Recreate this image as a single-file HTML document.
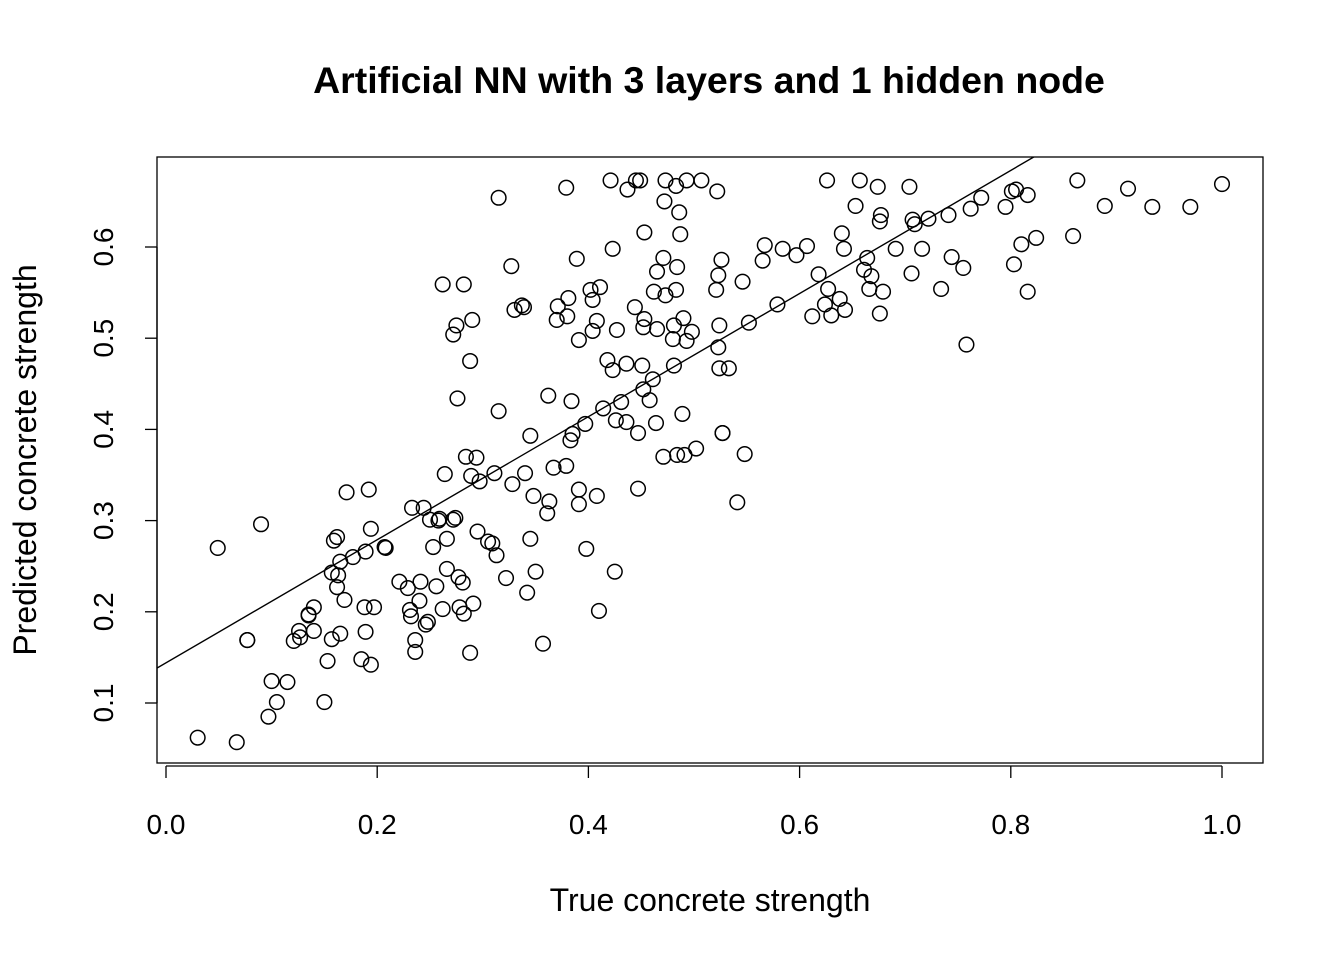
<!DOCTYPE html>
<html><head><meta charset="utf-8"><style>
html,body{margin:0;padding:0;background:#fff;}
svg text{font-family:"Liberation Sans",Arial,sans-serif;fill:#000;}
</style></head><body>
<svg id="chart" width="1344" height="960" xmlns="http://www.w3.org/2000/svg">
<rect x="0" y="0" width="1344" height="960" fill="#fff"/>
<text x="709" y="93" font-size="37.5" font-weight="bold" text-anchor="middle">Artificial NN with 3 layers and 1 hidden node</text>
<rect x="157" y="157" width="1106" height="606" fill="none" stroke="#000" stroke-width="1.3"/>
<text x="710" y="911" font-size="32" text-anchor="middle">True concrete strength</text>
<text x="0" y="0" font-size="32" text-anchor="middle" transform="translate(36,460) rotate(-90)">Predicted concrete strength</text>
<g id="axes"></g>
<defs><clipPath id="clip"><rect x="157" y="157" width="1106" height="606"/></clipPath></defs>
<g id="marks" clip-path="url(#clip)"></g>
</svg>
<script>
const xTicks = [0.0, 0.2, 0.4, 0.6, 0.8, 1.0];
const xTickLabels = ["0.0","0.2","0.4","0.6","0.8","1.0"];
const yTicks = [0.1, 0.2, 0.3, 0.4, 0.5, 0.6];
const yTickLabels = ["0.1","0.2","0.3","0.4","0.5","0.6"];
const fitIntercept = 0.144;
const fitSlope = 0.675;
const trueStrength = [
0.264,0.289,0.297,0.311,0.328,0.340,0.171,0.192,0.090,0.049,0.233,0.244,0.250,0.258,0.259,0.272,0.274,0.295,0.305,0.309,0.313,0.345,0.162,0.159,0.194,0.266,0.253,0.207,0.208,0.189,0.177,0.165,0.157,0.163,0.162,0.169,0.266,0.277,0.281,0.322,0.342,0.221,0.229,0.241,0.256,0.240,0.231,0.232,0.246,0.248,0.262,0.278,0.291,0.282,0.140,0.135,0.135,0.126,0.127,0.121,0.140,0.157,0.165,0.188,0.197,0.189,0.077,0.077,0.153,0.185,0.194,0.236,0.236,0.288,0.100,0.115,0.105,0.150,0.097,0.030,0.067,
0.367,0.379,0.348,0.363,0.361,0.391,0.391,0.408,0.447,0.541,0.398,0.350,0.425,0.410,0.357,
0.315,0.327,0.262,0.282,0.330,0.337,0.339,0.290,0.275,0.272,0.288,0.276,0.315,0.345,0.284,0.294,
0.379,0.421,0.437,0.445,0.449,0.473,0.483,0.493,0.507,0.522,0.472,0.486,0.453,0.487,0.423,0.389,0.471,0.465,0.484,0.462,0.473,0.483,0.444,0.453,0.452,0.465,0.481,0.490,0.498,0.480,0.493,0.427,0.408,0.404,0.391,0.402,0.411,0.404,0.381,0.371,0.380,0.370,0.526,0.523,0.521,0.546,0.524,0.523,0.552,0.579,0.567,0.565,0.584,0.597,0.607,0.626,0.657,0.674,0.653,0.677,0.676,0.640,0.642,0.691,0.618,0.627,0.638,0.624,0.630,0.643,0.612,0.664,0.661,0.668,0.666,0.679,0.676,0.418,0.423,0.436,0.451,0.481,0.524,0.533,0.461,0.452,0.458,0.431,0.414,0.362,0.384,0.397,0.385,0.383,0.426,0.436,0.447,0.464,0.489,0.527,0.527,0.471,0.484,0.491,0.502,0.548,
0.704,0.707,0.709,0.722,0.741,0.762,0.772,0.795,0.801,0.805,0.816,0.863,0.889,0.911,0.934,0.970,1.000,0.716,0.706,0.744,0.755,0.734,0.810,0.824,0.859,0.803,0.816,0.758
];
const predictedStrength = [
0.351,0.349,0.343,0.352,0.340,0.352,0.331,0.334,0.296,0.270,0.314,0.314,0.301,0.300,0.302,0.301,0.303,0.288,0.277,0.275,0.262,0.280,0.282,0.278,0.291,0.280,0.271,0.271,0.270,0.266,0.260,0.255,0.243,0.240,0.227,0.213,0.247,0.238,0.232,0.237,0.221,0.233,0.226,0.233,0.228,0.212,0.202,0.195,0.186,0.189,0.203,0.205,0.209,0.198,0.205,0.196,0.197,0.179,0.172,0.168,0.179,0.170,0.176,0.205,0.205,0.178,0.169,0.169,0.146,0.148,0.142,0.169,0.156,0.155,0.124,0.123,0.101,0.101,0.085,0.062,0.057,
0.358,0.360,0.327,0.321,0.308,0.334,0.318,0.327,0.335,0.320,0.269,0.244,0.244,0.201,0.165,
0.654,0.579,0.559,0.559,0.531,0.536,0.534,0.520,0.514,0.504,0.475,0.434,0.420,0.393,0.370,0.369,
0.665,0.673,0.663,0.673,0.673,0.673,0.667,0.673,0.673,0.661,0.650,0.638,0.616,0.614,0.598,0.587,0.588,0.573,0.578,0.551,0.547,0.553,0.534,0.521,0.512,0.510,0.514,0.522,0.507,0.499,0.497,0.509,0.519,0.508,0.498,0.553,0.556,0.542,0.544,0.535,0.524,0.520,0.586,0.569,0.553,0.562,0.514,0.490,0.517,0.537,0.602,0.585,0.598,0.591,0.601,0.673,0.673,0.666,0.645,0.635,0.628,0.615,0.598,0.598,0.570,0.554,0.543,0.537,0.525,0.531,0.524,0.588,0.575,0.568,0.554,0.551,0.527,0.476,0.465,0.472,0.470,0.470,0.467,0.467,0.455,0.444,0.432,0.430,0.423,0.437,0.431,0.406,0.395,0.388,0.410,0.408,0.396,0.407,0.417,0.396,0.396,0.370,0.372,0.372,0.379,0.373,
0.666,0.630,0.625,0.631,0.635,0.642,0.654,0.644,0.661,0.663,0.657,0.673,0.645,0.664,0.644,0.644,0.669,0.598,0.571,0.589,0.577,0.554,0.603,0.610,0.612,0.581,0.551,0.493
];
const NS = "http://www.w3.org/2000/svg";
function xScale(v){ return 166 + v * 1056; }
function yScale(v){ return 703 - (v - 0.1) * 912; }
const axes = document.getElementById("axes");
const marks = document.getElementById("marks");
function mk(tag, attrs, parent){
  const el = document.createElementNS(NS, tag);
  for (const k in attrs) el.setAttribute(k, attrs[k]);
  parent.appendChild(el);
  return el;
}
const xl = mk("line", {x1:xScale(xTicks[0]), x2:xScale(xTicks[xTicks.length-1]), y1:766, y2:766, stroke:"#000","stroke-width":1.3}, axes);


xTicks.forEach((t,i)=>{
  const tk = mk("line", {x1:xScale(t), x2:xScale(t), y1:766, y2:778, stroke:"#000","stroke-width":1.3}, axes);
  
  
  const tx = mk("text", {x:xScale(t), y:834, "font-size":28, "text-anchor":"middle"}, axes);
  tx.textContent = xTickLabels[i];
  
  
});
const yl = mk("line", {x1:157, x2:157, y1:yScale(yTicks[0]), y2:yScale(yTicks[yTicks.length-1]), stroke:"#000","stroke-width":1.3}, axes);


yTicks.forEach((t,i)=>{
  const tk = mk("line", {x1:145, x2:157, y1:yScale(t), y2:yScale(t), stroke:"#000","stroke-width":1.3}, axes);
  
  
  const tx = mk("text", {x:0, y:0, "font-size":28, "text-anchor":"middle", transform:"translate(113,"+yScale(t)+") rotate(-90)"}, axes);
  tx.textContent = yTickLabels[i];
  
  
});
const x0 = -0.02, x1 = 1.2;
const fl = mk("line", {x1:xScale(x0), y1:yScale(fitIntercept+fitSlope*x0), x2:xScale(x1), y2:yScale(fitIntercept+fitSlope*x1), stroke:"#000","stroke-width":1.4}, marks);


for (let i=0;i<trueStrength.length;i++){
  const c = mk("circle", {cx:xScale(trueStrength[i]), cy:yScale(predictedStrength[i]), r:7.3, fill:"none", stroke:"#000","stroke-width":1.5}, marks);
  
  
}
</script>
</body></html>
